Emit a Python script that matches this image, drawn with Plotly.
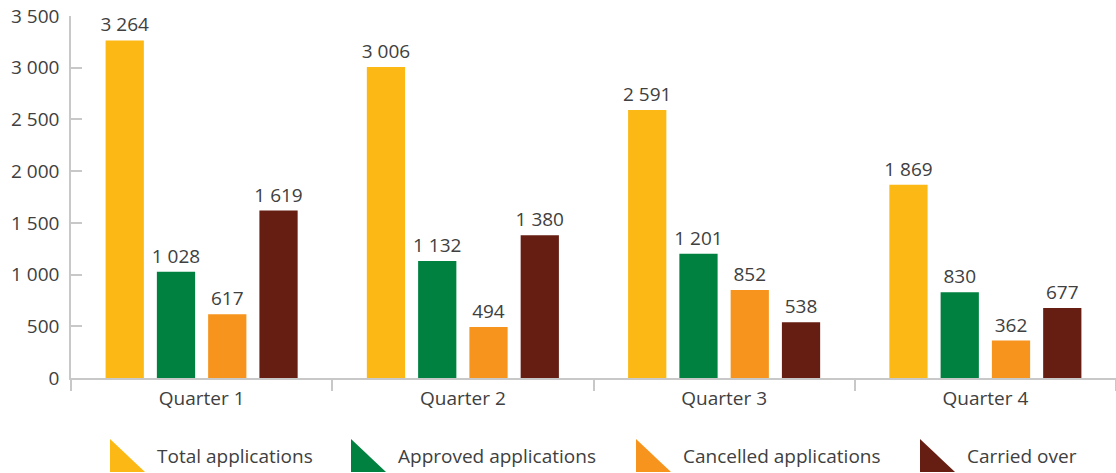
import plotly.graph_objects as go

categories = ["Quarter 1", "Quarter 2", "Quarter 3", "Quarter 4"]
series_names = ["Total applications", "Approved applications", "Cancelled applications", "Carried over"]
total_applications = [3264, 3006, 2591, 1869]
approved_applications = [1028, 1132, 1201, 830]
cancelled_applications = [617, 494, 852, 362]
carried_over = [1619, 1380, 538, 677]
y_tick_values = [0, 500, 1000, 1500, 2000, 2500, 3000, 3500]

colors = ["#FCB814", "#008140", "#F7941E", "#661E12"]
font_family = "Open Sans"
text_color = "#404040"

series_values = [total_applications, approved_applications, cancelled_applications, carried_over]

fig = go.Figure()
for name, vals, col in zip(series_names, series_values, colors):
    fig.add_trace(go.Bar(
        x=categories, y=vals, name=name,
        marker=dict(color=col, line=dict(width=0)),
        texttemplate="%{y:,}", textposition="outside", constraintext="none",
        textfont=dict(family=font_family, size=19, color=text_color),
        cliponaxis=False, showlegend=False,
    ))

# Legend drawn as triangle shapes + labels in paper coordinates
W, H = 1116, 473
ml, mr, mt, mb = 71, 0, 16, 95
pw, ph = W - ml - mr, H - mt - mb
def px(x):
    return (x - ml) / pw
def py(y):
    return (H - mb - y) / ph

legend_x = [110, 351, 636, 920]
for name, col, lx in zip(series_names, colors, legend_x):
    x0, x1 = px(lx), px(lx + 35)
    y0, y1 = py(472), py(439)
    fig.add_shape(type="path", xref="paper", yref="paper",
                  path=f"M {x0} {y1} L {x0} {y0} L {x1} {y0} Z",
                  fillcolor=col, line=dict(width=0))
    fig.add_annotation(xref="paper", yref="paper", x=px(lx + 45), y=py(456),
                       text=name, showarrow=False, xanchor="left", yanchor="middle",
                       font=dict(family=font_family, size=19, color=text_color))

fig.update_layout(
    width=W, height=H,
    margin=dict(l=ml, r=mr, t=mt, b=mb, autoexpand=False),
    paper_bgcolor="white", plot_bgcolor="white",
    barmode="group", bargap=0.215, bargroupgap=0.254,
    separators=", ",
    font=dict(family=font_family, size=19, color=text_color),
    showlegend=False,
)
fig.update_yaxes(
    range=[0, 3500], tickvals=y_tick_values, tickformat=",",
    showgrid=False, zeroline=False, automargin=False,
    showline=True, linecolor="#C8C8C8", linewidth=1.5,
    ticks="inside", ticklen=11, tickcolor="#C8C8C8", tickwidth=1.5,
    ticklabelstandoff=6,
    tickfont=dict(family=font_family, size=19, color=text_color),
)
fig.update_xaxes(
    showgrid=False, showline=True, linecolor="#C8C8C8", linewidth=1.5, automargin=False,
    ticks="outside", tickson="boundaries", ticklen=11, tickcolor="#C8C8C8", tickwidth=1.5,
    ticklabelstandoff=2,
    tickfont=dict(family=font_family, size=19, color=text_color),
)

fig.write_html("out.html", config={"displayModeBar": False},
               post_script="document.body.style.margin='0';document.body.style.overflow='hidden';")
